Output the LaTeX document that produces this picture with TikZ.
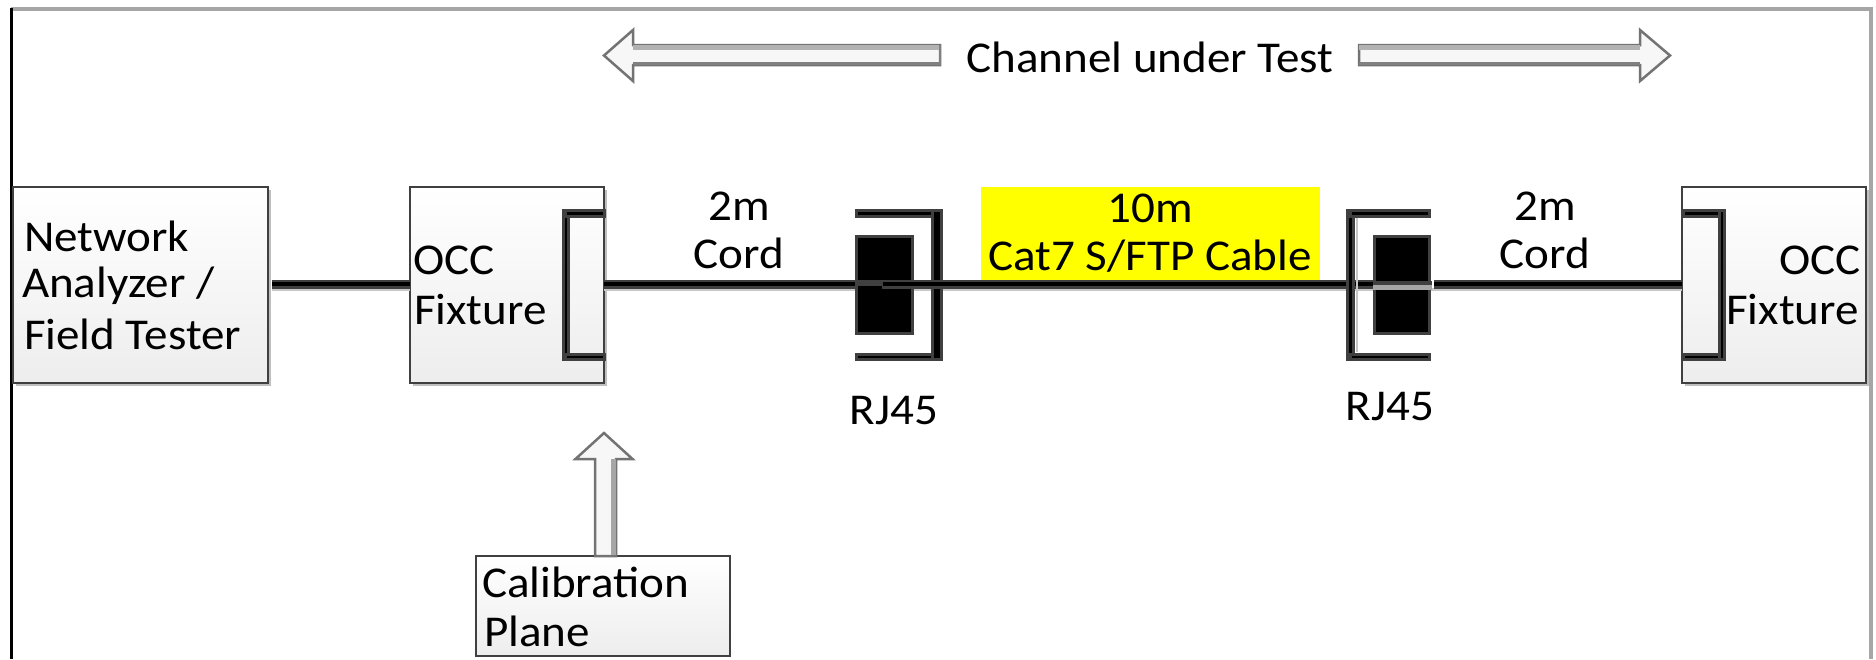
\documentclass[tikz,border=0pt]{standalone}
\usepackage{fontspec}
\setmainfont{Carlito}
\definecolor{yel}{RGB}{255,255,0}
\definecolor{edge}{RGB}{64,64,64}
\tikzset{
  x=1pt,y=-1pt,
  box/.style={draw=edge,line width=2.5pt,top color=white,bottom color=black!7,inner sep=0pt,outer sep=0pt,anchor=north west},
  boxshadow/.style={fill=black!25,draw=none},
  lbl/.style={inner sep=0pt,outer sep=0pt,font=\fontsize{44}{50}\selectfont,text=black,xscale=1.07},
  wire/.style={draw=edge,line width=2.5pt,double=black,double distance=4pt},
  barpart/.style={fill=black,draw=edge,line width=3pt},
  block/.style={fill=black,draw=edge,line width=3pt,inner sep=0pt,outer sep=0pt,anchor=north west},
  hollow/.style={draw=black!55,line width=2.5pt,fill=black!3,line join=miter},
  hollowtop/.style={draw=black!30,line width=5pt},
  hollowbot/.style={draw=black!50,line width=3pt},
}
\begin{document}
\begin{tikzpicture}
\useasboundingbox (0,0) rectangle (1876,659);
\fill[white] (0,0) rectangle (1876,659);
% frame
\draw[draw=black!35,line width=4pt] (11,9) -- (1871,9) -- (1871,659);
\draw[draw=black,line width=3pt] (11,8) -- (11,659);
% box shadows
\fill[boxshadow] (16,190) rectangle (271,386);
\fill[boxshadow] (413,190) rectangle (607,386);
\fill[boxshadow] (1685,190) rectangle (1869,386);
% boxes
\node[box,minimum width=255pt,minimum height=196pt] (na) at (13,187) {};
\node[box,minimum width=194pt,minimum height=196pt] (occa) at (410,187) {};
\node[box,minimum width=184pt,minimum height=196pt] (occb) at (1682,187) {};
% yellow
\node[fill=yel,minimum width=339pt,minimum height=95pt,inner sep=0pt,outer sep=0pt,anchor=north west] (cable) at (981,186.5) {};
% wire shadows
\fill[black!22] (272,288) rectangle (410,290.5);
\fill[black!22] (604,288) rectangle (1682,290.5);
% black blocks
\node[block,minimum width=56pt,minimum height=97pt] (blocka) at (856.5,236.5) {};
\node[block,minimum width=55pt,minimum height=97pt] (blockb) at (1374.5,236.5) {};
% free wire ends
\coordinate (ja) at (272,284);
\coordinate (jb) at (604,284);
\coordinate (jc) at (855,284);
\coordinate (jd) at (882,284);
\coordinate (je) at (1373,284);
\coordinate (jf) at (1434,284);
\coordinate (jg) at (1682,284);
% wires
\draw[wire] (ja) -- (ja -| occa.west);
\draw[wire] (jb) -- (jc);
\draw[wire] (jd) -- (je);
\draw[wire] (jf) -- (jg);
% wire details in the plugs
\fill[edge] (855,279.5) rectangle (883,286);
\fill[black!35] (1373,285) rectangle (1432,290);
\fill[edge] (1373,281) rectangle (1432,285);
% bracket, left fixture
\filldraw[barpart] (563.5,210.5) rectangle (568.5,359.5);
\filldraw[barpart] (565,210.5) rectangle (604,216.5);
\filldraw[barpart] (565,354.5) rectangle (604,359.5);
% bracket, left plug
\filldraw[barpart] (856.5,210.5) rectangle (935,216.5);
\filldraw[barpart] (856.5,354.5) rectangle (935,359.5);
\filldraw[barpart] (932.5,210.5) rectangle (941.5,359.5);
\draw[wire] (925,284) -- (960,284);
% bracket, right plug
\filldraw[barpart] (1347.5,210.5) rectangle (1353.5,359.5);
\filldraw[barpart] (1350,210.5) rectangle (1429.5,216.5);
\filldraw[barpart] (1350,354.5) rectangle (1429.5,359.5);
\fill[black!22] (1355.5,218) rectangle (1357.5,352);
% bracket, right fixture
\filldraw[barpart] (1683,210.5) rectangle (1722,216.5);
\filldraw[barpart] (1683,354.5) rectangle (1722,359.5);
\filldraw[barpart] (1719.5,210.5) rectangle (1724.5,359.5);
% channel arrows
\path[hollow] (604,55.5) -- (633,30) -- (633,45) -- (940,45) -- (940,65) -- (633,65) -- (633,81) -- cycle;
\draw[hollowtop] (633,47.5) -- (940,47.5);
\draw[hollowbot] (633,63.5) -- (940,63.5);
\draw[draw=black!50,line width=2.5pt] (940,45) -- (940,65);
\path[hollow] (1670,55.5) -- (1640,30) -- (1640,45) -- (1359,45) -- (1359,65) -- (1640,65) -- (1640,81) -- cycle;
\draw[hollowtop] (1359,47.5) -- (1640,47.5);
\draw[hollowbot] (1359,63.5) -- (1640,63.5);
% calibration box and arrow
\node[box,minimum width=254pt,minimum height=100pt] (cal) at (476,556) {};
\path[hollow] (604,433) -- (632.5,459) -- (616,459) -- (616,556) -- (595,556) -- (595,459) -- (575.5,459) -- cycle;
\draw[draw=black!35,line width=5pt] (613.5,459) -- (613.5,555);
% text
\node[lbl,anchor=west] (t1) at (24,236) {Network};
\node[lbl,anchor=west] (t2) at (22,286) {Analyzer /};
\node[lbl,anchor=west] (t3) at (24,334) {Field Tester};
\node[lbl,anchor=west] (t4) at (413,260) {OCC};
\node[lbl,anchor=west] (t5) at (414,310) {Fixture};
\node[lbl,anchor=center] (t6) at (739,206) {2m};
\node[lbl,anchor=center] (t7) at (739,253) {Cord};
\node[lbl,anchor=center] (t8) at (894,411) {RJ45};
\node[lbl,anchor=center] (t9) at (1150,57.5) {Channel under Test};
\node[lbl,anchor=center] (t10) at (1150,208) {10m};
\node[lbl,anchor=center] (t11) at (1150,256) {Cat7 S/FTP Cable};
\node[lbl,anchor=center] (t12) at (1390,407) {RJ45};
\node[lbl,anchor=center] (t13) at (1545,206) {2m};
\node[lbl,anchor=center] (t14) at (1545,253) {Cord};
\node[lbl,anchor=east] (t15) at (1861,260) {OCC};
\node[lbl,anchor=east] (t16) at (1859,310) {Fixture};
\node[lbl,anchor=west] (t17) at (482,582) {Calibration};
\node[lbl,anchor=west] (t18) at (484,631) {Plane};
\end{tikzpicture}
\end{document}
